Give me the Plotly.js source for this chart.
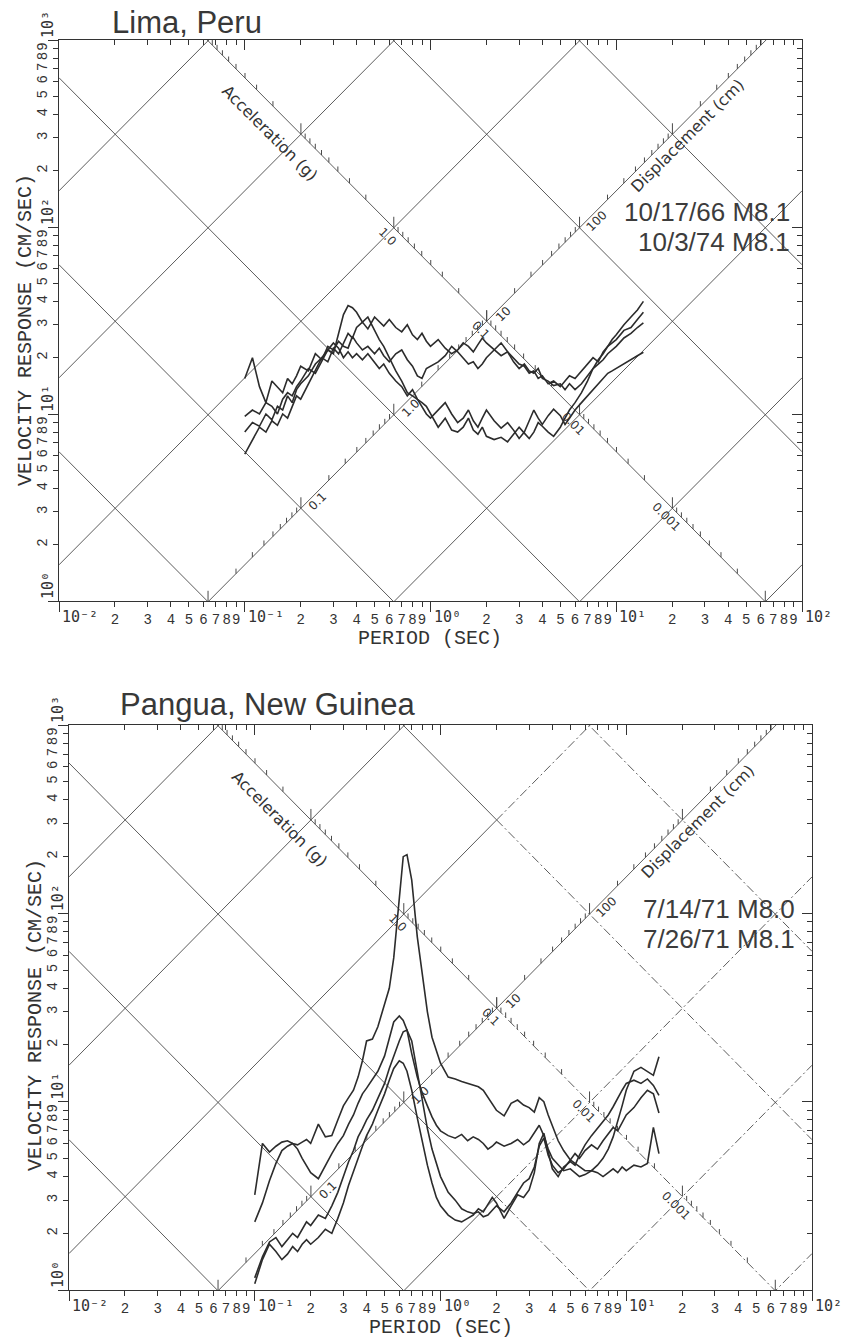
<!DOCTYPE html>
<html>
<head>
<meta charset="utf-8">
<script src="https://cdn.plot.ly/plotly-3.0.1.min.js"></script>
<style>
  html, body { margin: 0; padding: 0; background: #ffffff; }
  #chart { width: 843px; height: 1340px; }
</style>
</head>
<body>
<div id="chart"></div>
<script>
// ---------------- Lima, Peru : pseudo-velocity spectra (cm/s) vs period (s) ----------------
const limaPeriod = [0.10,0.11,0.12,0.13,0.14,0.15,0.16,0.17,0.18,0.19,0.20,
  0.22,0.24,0.26,0.28,0.30,0.32,0.34,0.36,0.38,0.40,
  0.43,0.46,0.50,0.53,0.56,0.60,0.65,0.70,0.75,0.80,0.85,0.90,0.95,1.0,
  1.1,1.2,1.3,1.4,1.5,1.6,1.7,1.8,1.9,2.0,
  2.2,2.4,2.6,2.8,3.0,3.2,3.4,3.6,3.8,4.0,
  4.3,4.6,5.0,5.3,5.6,6.0,6.5,7.0,7.5,8.0,8.5,9.0,9.5,10,
  11,12,13,14];
const lima66a = [15.5,20,14,11.5,15,14,13,15.5,14.5,16,18,
  17,21,19.5,23,22,24.5,23,22.5,26,24,
  22,23,21,22.5,20.5,19,21,22,19.5,18,16,15.5,17.5,18,
  19,20.5,23,21.5,20,18.5,19,17.5,18.5,20,
  22,24,21.5,20,18.5,18,16.5,17,15.5,16,
  14.5,15,14,15,16,15.5,17,18.5,20,19,21.5,23,24,25,
  28,29,32,35];
const lima66b = [9.7,10.5,10,11.5,11,10,12,13,12.5,14,15,
  17.5,16.5,19,22,21,27,34,38,37,35,
  31,33,28,25,23,20,17,15,13,12.5,12,11.5,11,10,
  8.5,9.5,8.2,8.0,8.5,9.5,8.2,7.8,8.5,7.6,
  7.3,7.5,7.1,7.8,8.5,7.9,7.4,8.0,9.0,8.6,
  8.0,7.6,8.5,9.5,10.5,11.5,13,15,17.5,19.5,21,23,25,26.5,
  30,33,36,40];
const lima74a = [8.0,9,8.6,10,9.3,11,10.5,12.5,11.5,13.5,14.5,
  16,18.5,20,19,22.5,21,24,27,25.5,29,
  31,28.5,33,31,29.5,32,29,27.5,30,26.5,25,27,24.5,23,
  25,22.5,21,22,24,23,21.5,23.5,25.5,24,
  22,20.5,21.5,19,17.5,18.5,17,16.5,17.5,15.5,
  15,14.2,14.5,13.5,14.5,13.5,14.5,16,17.5,18.5,19.5,21,22,23,
  25.5,27,29,30.7];
const lima74b = [6.1,7.2,8.5,8.0,9.2,8.7,10,9.5,11,12.5,12,
  14.5,17,20,22,24,22.5,20,21.5,20,21,
  19.5,21,19,17.5,18.5,16.5,15,14,12.5,13.5,12,11,10,9.5,
  10.5,11.5,10,9,9.5,10.5,9.2,8.5,9.5,10.5,
  9.2,8.4,9.0,8.2,7.4,8.0,9.2,10.5,9.5,8.8,
  9.8,10.6,9.8,8.8,9.5,10.5,11.5,12.5,13.5,14.5,15.5,16.5,17,17.5,
  18.5,19.5,20.5,21.4];

// ---------------- Pangua, New Guinea : pseudo-velocity spectra (cm/s) vs period (s) ----------------
const panguaPeriod = [0.10,0.11,0.12,0.13,0.14,0.15,0.16,0.17,0.18,0.19,0.20,
  0.22,0.24,0.26,0.28,0.30,0.32,0.34,0.36,0.38,0.40,
  0.43,0.46,0.50,0.53,0.56,0.60,0.63,0.66,0.70,0.75,0.80,0.85,0.90,0.95,1.0,
  1.1,1.2,1.3,1.4,1.5,1.6,1.7,1.8,1.9,2.0,
  2.2,2.4,2.6,2.8,3.0,3.2,3.4,3.6,3.8,4.0,
  4.3,4.6,5.0,5.3,5.6,6.0,6.5,7.0,7.5,8.0,8.5,9.0,9.5,10,
  11,12,13,14,15];
const pangua71a = [3.2,6.0,5.4,5.8,6.1,6.2,6.0,5.9,6.1,6.3,6.0,
  7.6,6.5,6.6,8.0,9.5,10.5,11.5,13.5,16.5,21,
  21.5,25,33,40,58,125,200,205,150,75,46,30,22,18.5,16,
  13.5,13.2,12.8,12.5,12.3,12.0,11.5,10.5,9.8,9.0,
  8.4,9.8,10.2,9.6,9.3,8.8,10.5,10.0,8.5,7.5,
  6.2,5.5,4.9,4.7,4.5,4.3,4.3,4.6,5.0,5.6,6.5,7.8,9.5,11.5,
  14.5,15.2,14.5,13.8,17.3];
const pangua71b = [2.3,2.9,3.8,4.7,5.5,5.8,6.0,5.6,5.0,4.6,4.2,
  3.9,4.6,5.3,6.0,6.6,7.6,8.5,9.8,11,11.8,
  13.2,14.5,17.5,22,26.5,28.5,27,24,18,13.5,11,9.5,8.3,7.5,7.0,
  6.6,6.4,6.7,6.2,6.5,6.3,6.0,5.6,5.8,6.1,
  5.8,6.0,6.3,5.9,6.2,6.8,7.5,6.6,5.6,5.0,
  4.6,4.3,4.4,4.2,4.0,4.1,4.3,4.2,4.0,4.2,4.4,4.2,4.5,4.3,
  4.6,4.5,4.7,7.3,5.3];
const pangua71c = [1.16,1.5,1.8,1.9,1.7,1.85,2.0,1.9,2.1,2.3,2.2,
  2.5,2.4,2.8,3.3,4.0,4.8,5.5,6.5,7.2,8.0,
  9.0,10.5,12.5,15,17.5,21,23.5,24,21,14.5,10,7.2,5.6,4.7,4.0,
  3.3,3.0,2.7,2.6,2.55,2.6,2.45,2.5,2.65,2.8,
  2.6,2.9,3.3,3.7,3.9,4.5,5.8,6.4,5.2,4.6,
  4.2,4.4,4.9,5.3,5.0,5.5,5.9,5.6,6.2,6.8,7.3,7.0,7.8,8.5,
  9.3,10.5,11.5,11.0,8.7];
const pangua71d = [1.08,1.45,1.75,1.6,1.45,1.55,1.7,1.6,1.75,1.85,1.75,
  1.9,2.1,2.0,2.4,2.9,3.6,4.3,5.0,5.8,6.6,
  7.6,9.0,11,13,15,16.5,16,14.5,11.5,8.2,6.0,4.6,3.7,3.1,2.8,
  2.5,2.35,2.3,2.4,2.5,2.7,2.6,2.85,3.1,2.9,
  2.4,2.8,3.2,3.1,3.4,4.2,6.0,6.8,5.5,4.4,
  4.0,4.5,4.8,4.6,5.2,5.9,6.6,7.2,7.9,8.5,9.4,10.5,11.5,12.5,
  13.0,12.5,13.2,12.2,10.8];

// ---------------- axis ticks ----------------
const periodDecades = [-2, -1, 0, 1, 2];
const velocityDecades = [0, 1, 2, 3];
const inDecadeDigits = [2, 3, 4, 5, 6, 7, 8, 9];

// tripartite grid: constant spectral acceleration (g) and displacement (cm)
const accelGridG = [0.0001, 0.001, 0.01, 0.1, 1, 10, 100];
const dispGridCm = [0.01, 0.1, 1, 10, 100, 1000];
const accelAxisOnDisp = 10;     // acceleration scale runs along D = 10 cm
const dispAxisOnAccel = 0.1;    // displacement scale runs along A = 0.1 g
const accelLabels = [[1, '1.0'], [0.1, '0.1'], [0.01, '0.01'], [0.001, '0.001']];
const dispLabels = [[100, '100'], [10, '10'], [1, '1.0'], [0.1, '0.1']];

const G = 981;
const TWO_PI = 2 * Math.PI;
const W = 843, H = 1340;
const INK = '#2c2c2c';
const GRID = '#4a4a4a';
const SUP = {'-': '\u207b', '0': '\u2070', '1': '\u00b9', '2': '\u00b2', '3': '\u00b3'};

function powerLabel(p) {
  return '10' + String(p).split('').map(c => SUP[c]).join('');
}
function buildTicks(decades) {
  const vals = [], text = [];
  decades.slice(0, -1).forEach(p => {
    inDecadeDigits.forEach(m => {
      vals.push(m * Math.pow(10, p));
      text.push(String(m));
    });
  });
  return {vals, text, majors: decades.map(p => Math.pow(10, p))};
}
const periodTicks = buildTicks(periodDecades);
const velocityTicks = buildTicks(velocityDecades);

const panels = [
  {
    xa: 'x', ya: 'y', xTop: 'x3', yRight: 'y3',
    frame: {l: 59, r: 802, t: 40, b: 601},
    title: 'Lima, Peru', titleAt: [110, 22],
    events: ['10/17/66 M8.1', '10/3/74 M8.1'], eventsRight: 792, eventsY: [212, 242],
    yTitleX: 26, dashFrom: null,
    period: limaPeriod, series: [lima66a, lima66b, lima74a, lima74b]
  },
  {
    xa: 'x2', ya: 'y2', xTop: 'x4', yRight: 'y4',
    frame: {l: 69, r: 812, t: 725, b: 1290},
    title: 'Pangua, New Guinea', titleAt: [118, 704],
    events: ['7/14/71 M8.0', '7/26/71 M8.1'], eventsRight: 797, eventsY: [909, 939],
    yTitleX: 35, dashFrom: 2.0,
    period: panguaPeriod, series: [pangua71a, pangua71b, pangua71c, pangua71d]
  }
];

const traces = [];
const layout = {
  width: W, height: H,
  margin: {l: 0, r: 0, t: 0, b: 0},
  paper_bgcolor: '#ffffff', plot_bgcolor: '#ffffff',
  showlegend: false,
  annotations: []
};

function axisName(id) { return id.replace('x', 'xaxis').replace('y', 'yaxis'); }
const tickFont = {family: 'Liberation Mono, DejaVu Sans Mono, monospace', size: 14, color: '#333'};
const decadeFont = {family: 'DejaVu Sans Mono, Liberation Mono, monospace', size: 15, color: '#333'};

panels.forEach(P => {
  const f = P.frame;
  const xdom = [f.l / W, f.r / W];
  const ydom = [1 - f.b / H, 1 - f.t / H];
  const pxPerDecadeY = (f.b - f.t) / 3;

  const common = {
    type: 'log', showgrid: false, zeroline: false, showline: true,
    linecolor: '#333', linewidth: 1.3, tickcolor: '#333', tickwidth: 1,
    tickmode: 'array', fixedrange: true
  };

  layout[axisName(P.xa)] = Object.assign({}, common, {
    domain: xdom, anchor: P.ya, range: [-2, 2],
    ticks: 'outside', ticklen: 5,
    tickvals: periodTicks.vals, ticktext: periodTicks.text, tickangle: 0, tickfont: tickFont,
    minor: {tickmode: 'array', tickvals: periodTicks.majors, ticks: 'outside', ticklen: 10, tickwidth: 1, tickcolor: '#333'}
  });
  layout[axisName(P.ya)] = Object.assign({}, common, {
    domain: ydom, anchor: P.xa, range: [0, 3],
    ticks: 'outside', ticklen: 5,
    tickvals: velocityTicks.vals, ticktext: velocityTicks.text, tickangle: -90, tickfont: tickFont,
    minor: {tickmode: 'array', tickvals: velocityTicks.majors, ticks: 'outside', ticklen: 10, tickwidth: 1, tickcolor: '#333'}
  });
  layout[axisName(P.xTop)] = Object.assign({}, common, {
    overlaying: P.xa, side: 'top', anchor: P.ya, range: [-2, 2],
    ticks: 'inside', ticklen: 5, tickvals: periodTicks.vals, showticklabels: false,
    minor: {tickmode: 'array', tickvals: periodTicks.majors, ticks: 'inside', ticklen: 10, tickwidth: 1, tickcolor: '#333'}
  });
  layout[axisName(P.yRight)] = Object.assign({}, common, {
    overlaying: P.ya, side: 'right', anchor: P.xa, range: [0, 3],
    ticks: 'inside', ticklen: 5, tickvals: velocityTicks.vals, showticklabels: false,
    minor: {tickmode: 'array', tickvals: velocityTicks.majors, ticks: 'inside', ticklen: 10, tickwidth: 1, tickcolor: '#333'}
  });

  // empty traces so that the mirrored frame axes are drawn
  traces.push({type: 'scatter', x: [], y: [], xaxis: P.xTop, yaxis: P.ya, hoverinfo: 'skip'});
  traces.push({type: 'scatter', x: [], y: [], xaxis: P.xa, yaxis: P.yRight, hoverinfo: 'skip'});

  // decade labels, each starting at its tick
  periodTicks.majors.forEach((t, i) => {
    layout.annotations.push({xref: P.xa, yref: 'paper', x: Math.log10(t), y: 1 - (f.b + 16) / H,
      xanchor: 'left', yanchor: 'middle', xshift: 1, showarrow: false,
      text: powerLabel(periodDecades[i]), font: decadeFont});
  });
  velocityTicks.majors.forEach((v, i) => {
    layout.annotations.push({xref: 'paper', yref: P.ya, x: (f.l - 11) / W, y: Math.log10(v),
      xanchor: 'center', yanchor: 'middle', yshift: 15, textangle: -90, showarrow: false,
      text: powerLabel(velocityDecades[i]), font: decadeFont});
  });

  // diagonal grid: constant acceleration (slope +1) and constant displacement (slope -1)
  const split = P.dashFrom || 100;
  const sx = [], sy = [], dx = [], dy = [];
  function addLine(fv, keepSolid) {
    const end = keepSolid ? 100 : split;
    sx.push(0.01, end, null);
    sy.push(fv(0.01), fv(end), null);
    if (end < 100) {
      dx.push(end, 100, null);
      dy.push(fv(end), fv(100), null);
    }
  }
  accelGridG.forEach(a => addLine(T => a * G * T / TWO_PI, a === dispAxisOnAccel));
  dispGridCm.forEach(d => addLine(T => TWO_PI * d / T, false));
  traces.push({type: 'scatter', mode: 'lines', x: sx, y: sy, xaxis: P.xa, yaxis: P.ya,
    line: {color: GRID, width: 0.9}, hoverinfo: 'skip'});
  if (dx.length) {
    traces.push({type: 'scatter', mode: 'lines', x: dx, y: dy, xaxis: P.xa, yaxis: P.ya,
      line: {color: GRID, width: 0.9, dash: '9px,3px,2px,3px'}, hoverinfo: 'skip'});
  }

  // tick marks along the two diagonal scales
  const minorLen = Math.pow(10, 5 / pxPerDecadeY);
  const majorLen = Math.pow(10, 11 / pxPerDecadeY);
  const tx = [], ty = [];
  for (let k = -5; k <= 3; k++) {
    [1].concat(inDecadeDigits).forEach(m => {
      const a = m * Math.pow(10, k);
      const Ta = TWO_PI * Math.sqrt(accelAxisOnDisp / (a * G));
      const Va = TWO_PI * accelAxisOnDisp / Ta;
      tx.push(Ta, Ta, null);
      ty.push(Va, Va * (m === 1 ? majorLen : minorLen), null);
      const d = m * Math.pow(10, k);
      const Td = TWO_PI * Math.sqrt(d / (dispAxisOnAccel * G));
      const Vd = TWO_PI * d / Td;
      tx.push(Td, Td, null);
      ty.push(Vd, Vd * (m === 1 ? majorLen : minorLen), null);
    });
  }
  traces.push({type: 'scatter', mode: 'lines', x: tx, y: ty, xaxis: P.xa, yaxis: P.ya,
    line: {color: GRID, width: 1}, hoverinfo: 'skip'});

  // response spectra
  P.series.forEach(v => {
    traces.push({type: 'scatter', mode: 'lines', x: P.period, y: v, xaxis: P.xa, yaxis: P.ya,
      line: {color: INK, width: 1.6}, hoverinfo: 'skip'});
  });

  // scale labels on the diagonals
  const smallFont = {family: 'DejaVu Sans, sans-serif', size: 12, color: '#333'};
  accelLabels.forEach(([a, txt]) => {
    const T = TWO_PI * Math.sqrt(accelAxisOnDisp / (a * G));
    const V = TWO_PI * accelAxisOnDisp / T;
    layout.annotations.push({xref: P.xa, yref: P.ya, x: Math.log10(T), y: Math.log10(V),
      text: txt, textangle: 45, showarrow: false, xshift: -6, yshift: -9, font: smallFont});
  });
  dispLabels.forEach(([d, txt]) => {
    const T = TWO_PI * Math.sqrt(d / (dispAxisOnAccel * G));
    const V = TWO_PI * d / T;
    layout.annotations.push({xref: P.xa, yref: P.ya, x: Math.log10(T), y: Math.log10(V),
      text: txt, textangle: -45, showarrow: false, xshift: 17, yshift: 7, font: smallFont});
  });
  const scaleFont = {family: 'DejaVu Sans, sans-serif', size: 16, color: '#333'};
  layout.annotations.push({xref: P.xa, yref: P.ya, x: -0.869, y: 2.503, text: 'Acceleration (g)',
    textangle: 45, showarrow: false, font: scaleFont});
  layout.annotations.push({xref: P.xa, yref: P.ya, x: 1.386, y: 2.487, text: 'Displacement (cm)',
    textangle: -45, showarrow: false, font: scaleFont});

  // titles and captions
  layout.annotations.push({xref: 'paper', yref: 'paper', x: P.titleAt[0] / W, y: 1 - P.titleAt[1] / H,
    xanchor: 'left', yanchor: 'middle', text: P.title, showarrow: false,
    font: {family: 'Liberation Sans, Arial, sans-serif', size: 31, color: '#383838'}});
  P.events.forEach((e, i) => {
    layout.annotations.push({xref: 'paper', yref: 'paper', x: P.eventsRight / W, y: 1 - P.eventsY[i] / H,
      xanchor: 'right', yanchor: 'middle', text: e, showarrow: false,
      font: {family: 'Liberation Sans, Arial, sans-serif', size: 26, color: '#3c3c3c'}});
  });
  const axisTitleFont = {family: 'Liberation Mono, DejaVu Sans Mono, monospace', size: 20, color: '#333'};
  layout.annotations.push({xref: 'paper', yref: 'paper', x: (f.l + f.r) / 2 / W, y: 1 - (f.b + 37) / H,
    xanchor: 'center', yanchor: 'middle', text: 'PERIOD (SEC)', showarrow: false, font: axisTitleFont});
  layout.annotations.push({xref: 'paper', yref: 'paper', x: P.yTitleX / W, y: 1 - (f.t + 290) / H,
    xanchor: 'center', yanchor: 'middle', text: 'VELOCITY RESPONSE (CM/SEC)', textangle: -90,
    showarrow: false, font: axisTitleFont});
});

Plotly.newPlot('chart', traces, layout, {staticPlot: true, displayModeBar: false});
</script>
</body>
</html>
